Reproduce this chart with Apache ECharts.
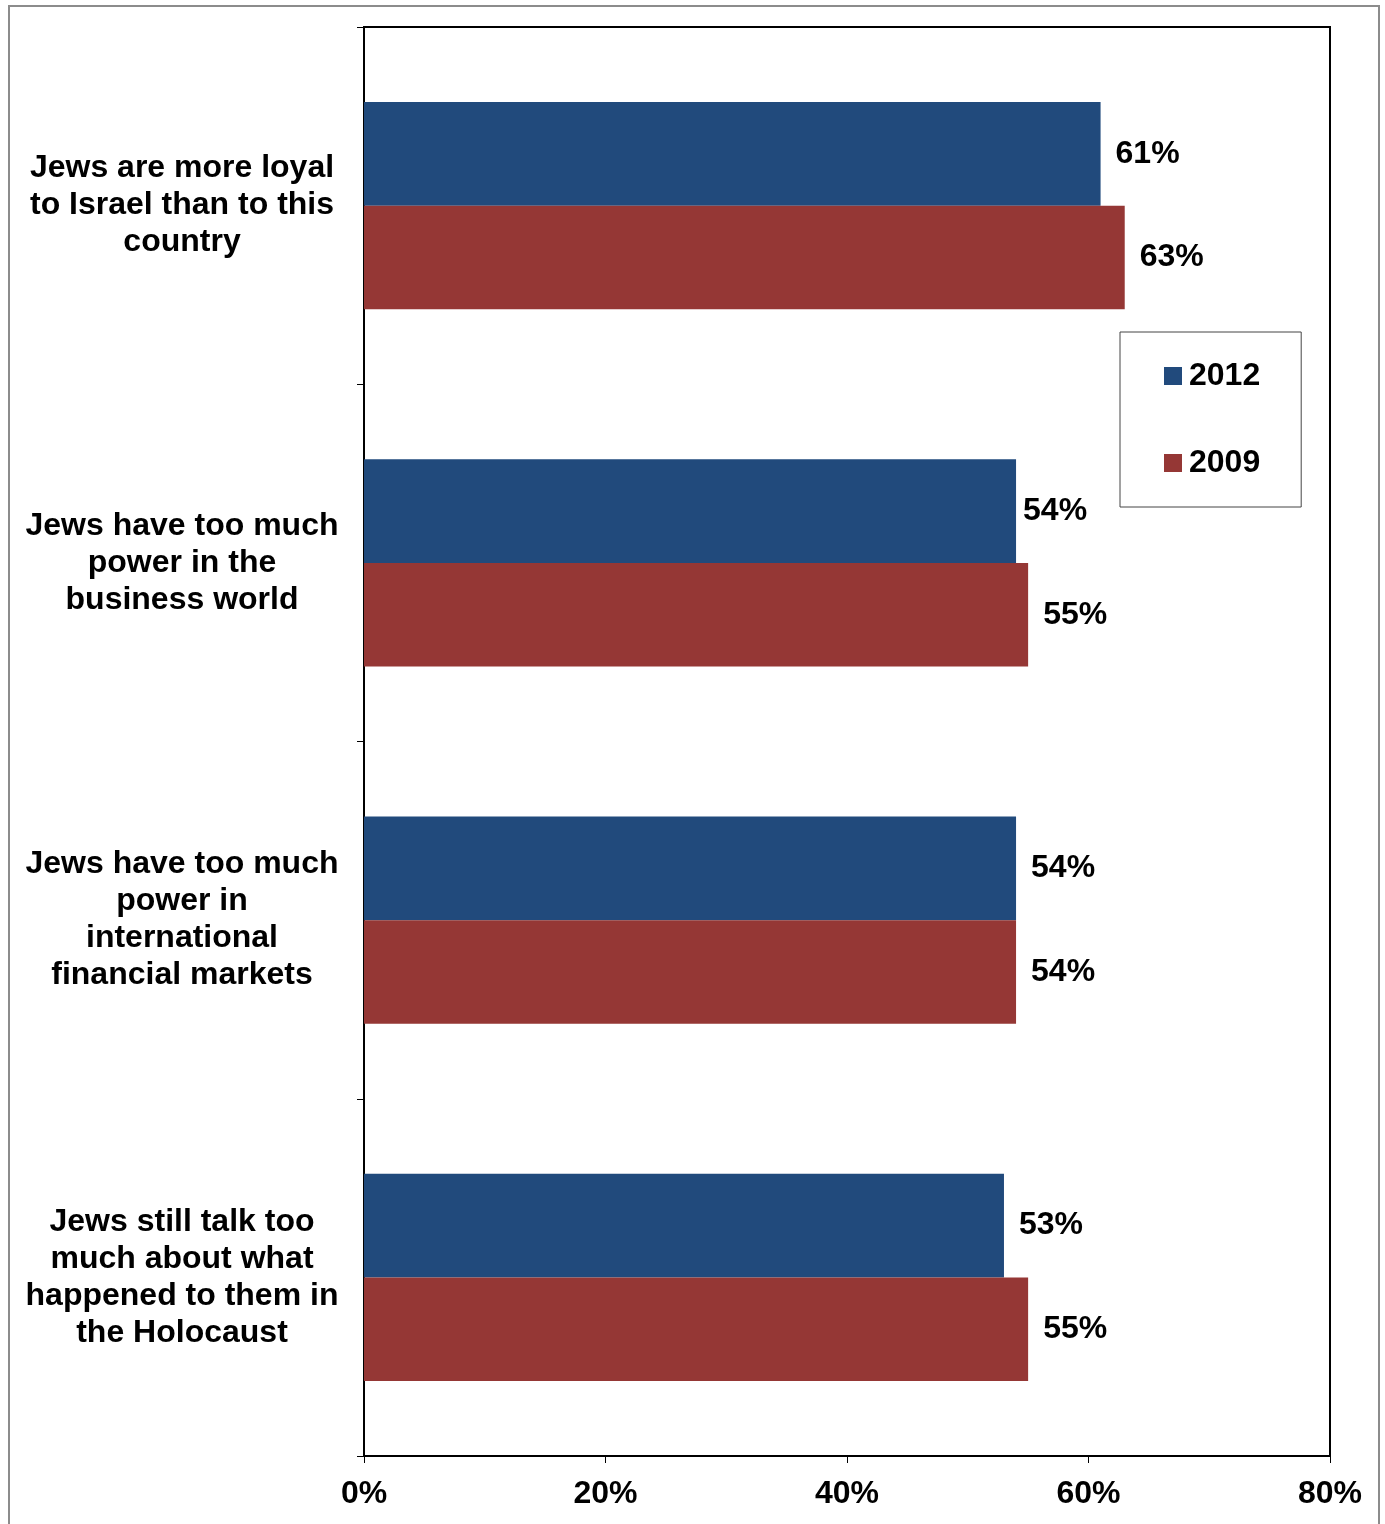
<!DOCTYPE html>
<html>
<head>
<meta charset="utf-8">
<script src="https://cdn.jsdelivr.net/npm/echarts@6/dist/echarts.min.js"></script>
<style>
html,body{margin:0;padding:0;background:#fff;}
#chart{width:1385px;height:1524px;}
</style>
</head>
<body>
<div id="chart"></div>
<script>
const categories = [
  "Jews are more loyal\nto Israel than to this\ncountry",
  "Jews have too much\npower in the\nbusiness world",
  "Jews have too much\npower in\ninternational\nfinancial markets",
  "Jews still talk too\nmuch about what\nhappened to them in\nthe Holocaust"
];
const seriesNames = ["2012", "2009"];
const values2012 = [61, 54, 54, 53];
const values2009 = [63, 55, 54, 55];
const xTicks = [0, 20, 40, 60, 80];

const FONT = "'Liberation Sans', Arial, sans-serif";
const chart = echarts.init(document.getElementById('chart'));
const labelStyle = {
  show: true, position: 'right', distance: 15,
  formatter: p => p.value + '%',
  fontFamily: FONT, fontWeight: 'bold', fontSize: 32, color: '#000'
};
function barData(vals, seriesIdx) {
  return vals.map((v, i) => {
    // one label in the original sits closer to its bar
    if (seriesIdx === 0 && i === 1) return {value: v, label: {distance: 7}};
    return v;
  });
}
chart.setOption({
  animation: false,
  backgroundColor: '#fff',
  graphic: [{
    type: 'rect', shape: {x: 9, y: 6, width: 1370, height: 1540},
    style: {fill: 'none', stroke: '#8c8c8c', lineWidth: 2}, silent: true, z: -1
  }],
  grid: {left: 364, right: 55, top: 27, bottom: 68, show: true, borderColor: '#000', borderWidth: 2},
  legend: {
    orient: 'vertical', left: 1120, top: 332,
    padding: [28, 41, 28, 44], itemGap: 55,
    itemWidth: 18, itemHeight: 18, icon: 'rect', itemStyle: {borderWidth: 0},
    borderColor: '#444', borderWidth: 1, backgroundColor: '#fff',
    textStyle: {fontFamily: FONT, fontWeight: 'bold', fontSize: 32, color: '#000', lineHeight: 30, padding: [0,0,0,2]},
    data: seriesNames
  },
  xAxis: {
    type: 'value', min: xTicks[0], max: xTicks[xTicks.length - 1], interval: xTicks[1] - xTicks[0],
    axisLine: {show: true, lineStyle: {color: '#000', width: 2}},
    axisTick: {show: true, length: 7, lineStyle: {color: '#000', width: 1}},
    splitLine: {show: false},
    axisLabel: {formatter: v => v + '%', margin: 22, fontFamily: FONT, fontWeight: 'bold', fontSize: 32, color: '#000'}
  },
  yAxis: {
    type: 'category', data: categories, inverse: true,
    axisLine: {show: true, lineStyle: {color: '#000', width: 2}},
    axisTick: {show: true, length: 7, lineStyle: {color: '#000', width: 1}},
    axisLabel: {margin: 182, align: 'center', fontFamily: FONT, fontWeight: 'bold', fontSize: 32, lineHeight: 37, color: '#000'}
  },
  series: [
    {name: seriesNames[0], type: 'bar', data: barData(values2012, 0), barGap: '0%', barCategoryGap: '42%',
     itemStyle: {color: '#214a7c'}, label: labelStyle},
    {name: seriesNames[1], type: 'bar', data: barData(values2009, 1), barGap: '0%', barCategoryGap: '42%',
     itemStyle: {color: '#953735'}, label: labelStyle}
  ]
});
</script>
</body>
</html>
